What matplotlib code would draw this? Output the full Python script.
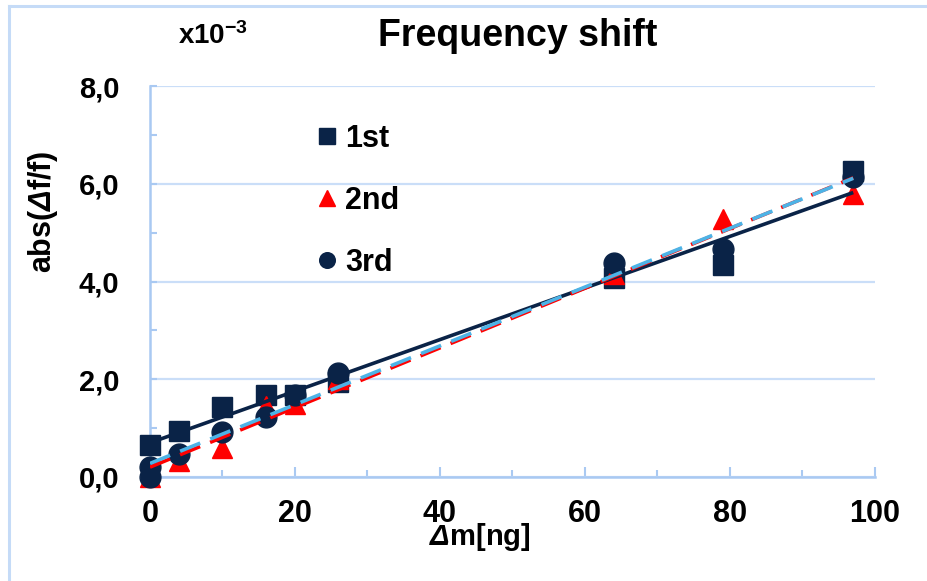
import numpy as np
import matplotlib
matplotlib.use("Agg")
import matplotlib.pyplot as plt
from matplotlib.lines import Line2D
from matplotlib.ticker import FuncFormatter, MultipleLocator

plt.rcParams['font.family'] = ['Liberation Sans', 'DejaVu Sans']
plt.rcParams['font.weight'] = 'bold'
# mathtext only used for the italic delta and the exponent
plt.rcParams['mathtext.fontset'] = 'custom'
plt.rcParams['mathtext.rm'] = 'Liberation Sans:italic:bold'
plt.rcParams['mathtext.it'] = 'Liberation Sans:italic:bold'
plt.rcParams['mathtext.bf'] = 'Liberation Sans:bold'

# data (x in ng, y in units of 1e-3)
labels = ["1st", "2nd", "3rd"]
x_1st = [0, 4, 10, 16, 20, 26, 64, 79, 97]
y_1st = [0.65, 0.94, 1.43, 1.67, 1.67, 1.94, 4.08, 4.33, 6.27]
x_2nd = [0, 4, 10, 16, 20, 26, 64, 79, 97]
y_2nd = [0.0, 0.33, 0.60, 1.45, 1.50, 2.00, 4.15, 5.27, 5.80]
x_3rd = [0, 0, 4, 10, 16, 20, 26, 64, 79, 97]
y_3rd = [0.0, 0.20, 0.47, 0.92, 1.23, 1.67, 2.12, 4.37, 4.67, 6.13]

navy = '#0a2347'
red = '#ff0000'
sky = '#4db3e6'
grid_c = '#cadef8'
spine_c = '#a9c9f2'

fig = plt.figure(figsize=(9.28, 5.81), dpi=100)
ax = fig.add_axes([150/928, 1-477/581, 725/928, 391/581])

ax.plot(x_1st, y_1st, 's', color=navy, ms=15, clip_on=False, zorder=3, label=labels[0])
ax.plot(x_2nd, y_2nd, '^', color=red, ms=15, clip_on=False, zorder=3, label=labels[1])
ax.plot(x_3rd, y_3rd, 'o', color=navy, ms=15, clip_on=False, zorder=3, label=labels[2])

# linear trendlines
def trend(xs, ys):
    k, b = np.polyfit(xs, ys, 1)
    xx = np.array([min(xs), max(xs)])
    return xx, k*xx + b

xx, yy = trend(x_1st, y_1st)
ax.plot(xx, yy, '-', color=navy, lw=2.6, zorder=4, solid_capstyle='butt')
xx, yy = trend(x_2nd, y_2nd)
ax.plot(xx, yy, '--', color=red, lw=2.6, dashes=(6, 3), zorder=4)
xx, yy = trend(x_3rd, y_3rd)
ax.plot(xx, yy, '--', color=sky, lw=2.6, dashes=(6, 3), zorder=5)

ax.set_xlim(0, 100)
ax.set_ylim(0, 8)
ax.xaxis.set_major_locator(MultipleLocator(20))
ax.xaxis.set_minor_locator(MultipleLocator(10))
ax.yaxis.set_major_locator(MultipleLocator(2))
ax.yaxis.set_minor_locator(MultipleLocator(1))
ax.yaxis.set_major_formatter(FuncFormatter(lambda v, p: f"{v:.1f}".replace('.', ',')))

for s in ['top', 'right']:
    ax.spines[s].set_visible(False)
for s in ['left', 'bottom']:
    ax.spines[s].set_color(spine_c)
    ax.spines[s].set_linewidth(1.8)
ax.grid(axis='y', which='major', color=grid_c, lw=1.6)
ax.set_axisbelow(True)

ax.tick_params(axis='both', which='both', direction='in', color=spine_c, width=1.5)
ax.tick_params(axis='x', which='major', length=7, labelsize=22, pad=16)
ax.tick_params(axis='x', which='minor', length=5)
ax.tick_params(axis='y', which='major', length=5, labelsize=21, pad=22)
ax.tick_params(axis='y', which='minor', length=5)

ax.set_ylabel(r'abs($\Delta$f/f)', fontsize=22, fontweight='bold')
ax.yaxis.set_label_coords((43-150)/725, (477-212)/391)
ax.yaxis.label.set(va='center', ha='center')
ax.set_xlabel(r'$\Delta$m[ng]', fontsize=21, fontweight='bold')
ax.xaxis.set_label_coords((480-150)/725, (477-537)/391)
ax.xaxis.label.set(va='center', ha='center')

fig.text(518/928, 1-46/581, 'Frequency shift', fontsize=27, fontweight='bold',
         ha='center', va='baseline')
fig.text(178/928, 1-44/581, r'x10$^{\mathbf{-3}}$', fontsize=20, fontweight='bold',
         ha='left', va='baseline')

leg = ax.legend(loc='upper left', bbox_to_anchor=(318/928, 1-124/581),
                bbox_transform=fig.transFigure, frameon=False, fontsize=22,
                markerscale=0.75, handlelength=0.6, handletextpad=0.3,
                labelspacing=1.05, borderpad=0, borderaxespad=0)

# light frame around the chart area
fig.add_artist(Line2D([9/928, 1], [1-6/581, 1-6/581], color='#c5dbf7', lw=2.2,
                      transform=fig.transFigure))
fig.add_artist(Line2D([9/928, 9/928], [0, 1-6/581], color='#c5dbf7', lw=2.2,
                      transform=fig.transFigure))

fig.savefig('out.png', dpi=100)
